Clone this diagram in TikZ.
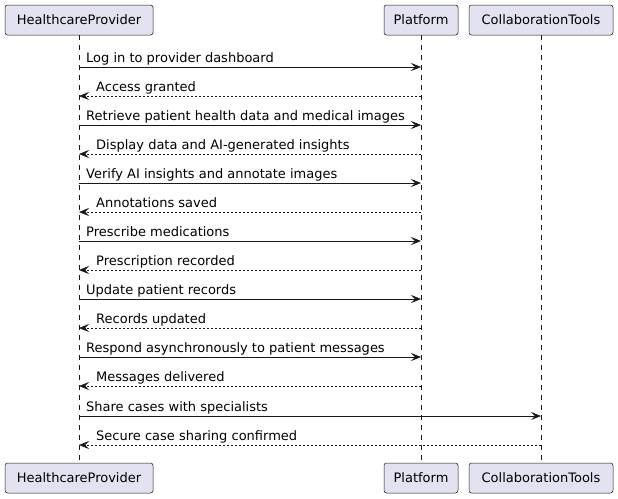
\documentclass[tikz,border=0pt]{standalone}
\usepackage{fontspec}
\setmainfont{DejaVu Sans}
\usetikzlibrary{arrows.meta}
\definecolor{boxfill}{HTML}{E2E2F0}
\definecolor{ink}{HTML}{181818}
\tikzset{
  part/.style={draw=ink, fill=boxfill, rounded corners=2.5pt, line width=0.5pt, minimum height=30pt, inner sep=0pt, font=\fontsize{13}{15}\selectfont, text=black},
  life/.style={draw=ink, line width=0.5pt, dash pattern=on 5pt off 5pt},
  req/.style={draw=ink, line width=0.75pt, -{Stealth[length=10pt,width=8pt,inset=4pt]}},
  rep/.style={draw=ink, line width=0.75pt, dash pattern=on 2pt off 2pt, -{Stealth[length=10pt,width=8pt,inset=4pt]}},
  lbl/.style={font=\fontsize{13}{15}\selectfont, anchor=base west, inner sep=0pt, text=black}
}
\begin{document}
\begin{tikzpicture}[x=1pt,y=-1pt]
\useasboundingbox (0,0) rectangle (618,498);
% participants
\node[part, minimum width=148pt] (hpT) at (79,20) {HealthcareProvider};
\node[part, minimum width=74pt] (plT) at (421,20) {Platform};
\node[part, minimum width=144pt] (ctT) at (541,20) {CollaborationTools};
\node[part, minimum width=148pt] (hpB) at (79,478) {HealthcareProvider};
\node[part, minimum width=74pt] (plB) at (421,478) {Platform};
\node[part, minimum width=144pt] (ctB) at (541,478) {CollaborationTools};
\draw[life] (hpT.south) -- (hpB.north);
\draw[life] (plT.south) -- (plB.north);
\draw[life] (ctT.south) -- (ctB.north);
% message endpoints
\foreach \i/\y in {1/67,2/96,3/125,4/154,5/183,6/212,7/241,8/270,9/299,10/328,11/357,12/386,13/416,14/445}{
  \coordinate (h\i) at (79,\y);
  \coordinate (p\i) at (421,\y);
  \coordinate (c\i) at (541,\y);
}
\draw[req] (h1) -- (p1);
\node[lbl] at (86,62) {Log in to provider dashboard};
\draw[rep] (p2) -- (h2);
\node[lbl] at (96,91) {Access granted};
\draw[req] (h3) -- (p3);
\node[lbl] at (86,120) {Retrieve patient health data and medical images};
\draw[rep] (p4) -- (h4);
\node[lbl] at (96,149) {Display data and AI-generated insights};
\draw[req] (h5) -- (p5);
\node[lbl] at (86,178) {Verify AI insights and annotate images};
\draw[rep] (p6) -- (h6);
\node[lbl] at (96,207) {Annotations saved};
\draw[req] (h7) -- (p7);
\node[lbl] at (86,236) {Prescribe medications};
\draw[rep] (p8) -- (h8);
\node[lbl] at (96,265) {Prescription recorded};
\draw[req] (h9) -- (p9);
\node[lbl] at (86,294) {Update patient records};
\draw[rep] (p10) -- (h10);
\node[lbl] at (96,323) {Records updated};
\draw[req] (h11) -- (p11);
\node[lbl] at (86,352) {Respond asynchronously to patient messages};
\draw[rep] (p12) -- (h12);
\node[lbl] at (96,381) {Messages delivered};
\draw[req] (h13) -- (c13);
\node[lbl] at (86,411) {Share cases with specialists};
\draw[rep] (c14) -- (h14);
\node[lbl] at (96,440) {Secure case sharing confirmed};
\end{tikzpicture}
\end{document}
